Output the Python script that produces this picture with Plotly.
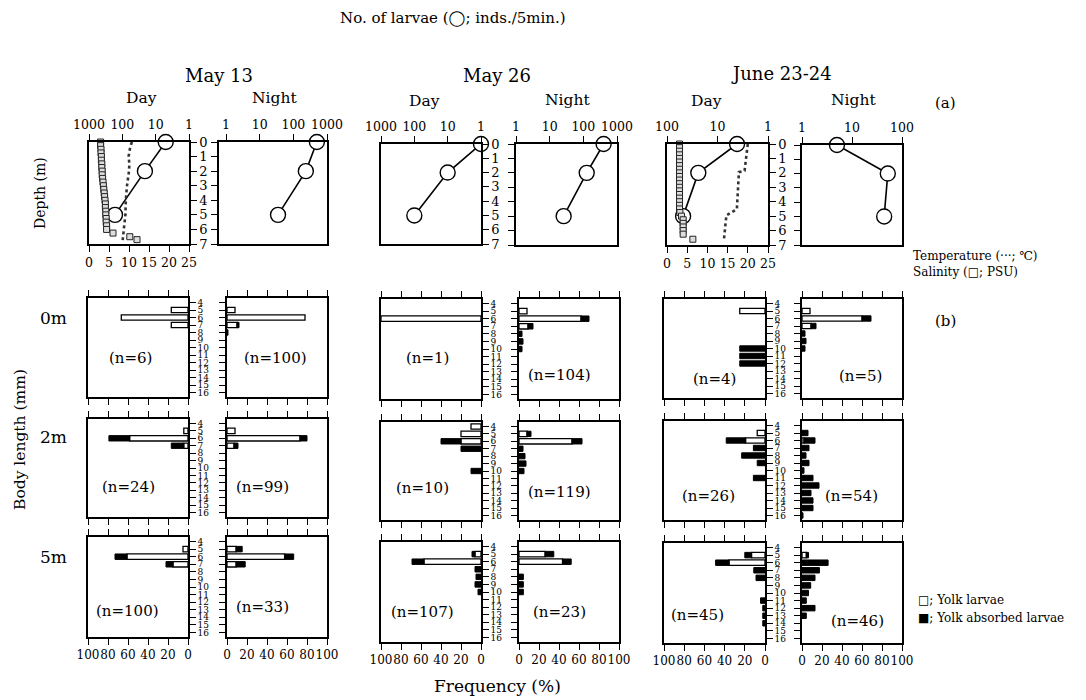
import plotly.graph_objects as go

W, H = 1086, 700
FONT = "DejaVu Serif"

# ---------------- data : (a) vertical distribution ----------------
depth_sampled = [0, 2, 5]
larvae_may13_day = [5, 21, 166]
larvae_may13_night = [500, 235, 35]
larvae_may26_day = [1, 10, 100]
larvae_may26_night = [400, 126, 26]
larvae_jun_day = [4.1, 24, 48]
larvae_jun_night = [5, 52, 44]

temp_depth_may13 = [0, 0.5, 1.0, 1.5, 2.0, 2.5, 3.0, 4.0, 5.0, 6.0, 6.8]
temp_may13 = [10.7, 10.2, 9.9, 10.1, 10.0, 9.7, 9.5, 9.2, 9.1, 8.7, 8.4]

sal_depth_may13 = [0, 0.25, 0.5, 0.75, 1.0, 1.25, 1.5, 1.75, 2.0, 2.25, 2.5, 2.75, 3.0,
                   3.25, 3.5, 3.75, 4.0, 4.25, 4.5, 4.75, 5.0, 5.25, 5.5, 5.75, 6.0,
                   6.25, 6.5, 6.7]
sal_may13 = [2.9, 2.9, 3.0, 3.0, 3.1, 3.1, 3.2, 3.2, 3.3, 3.3, 3.4, 3.5, 3.6,
             3.7, 3.8, 3.9, 4.0, 4.1, 4.1, 4.2, 4.2, 4.3, 4.3, 4.4, 4.4,
             6.0, 10.2, 12.0]

temp_depth_jun = [0, 0.5, 1.0, 1.5, 1.85, 1.95, 2.5, 3.0, 3.5, 4.0, 4.5, 4.6, 4.8, 4.95, 5.5, 6.0, 6.6]
temp_jun = [20.0, 19.8, 19.6, 19.4, 19.2, 17.8, 17.7, 17.6, 17.5, 17.4, 17.3, 16.8, 15.4, 14.7, 14.5, 14.3, 14.1]

sal_depth_jun = [0, 0.25, 0.5, 0.75, 1.0, 1.25, 1.5, 1.75, 2.0, 2.25, 2.5, 2.75, 3.0,
                 3.25, 3.5, 3.75, 4.0, 4.25, 4.5, 4.75, 5.0, 5.25, 5.5, 5.75, 6.0, 6.25, 6.6]
sal_jun = [3.1, 3.1, 3.1, 3.1, 3.1, 3.1, 3.1, 3.1, 3.1, 3.1, 3.1, 3.1, 3.1,
           3.1, 3.1, 3.1, 3.1, 3.1, 3.1, 3.2, 3.6, 4.0, 4.0, 4.0, 4.0, 4.0, 6.4]

# ---------------- data : (b) body length frequency (%) ----------------
body_length = [4, 5, 6, 7, 8, 9, 10, 11, 12, 13, 14, 15, 16]

#                          4    5     6     7    8    9   10   11   12   13   14   15   16
yolk_may13_day_0m      = [0, 16.7, 66.7, 16.7, 0, 0, 0, 0, 0, 0, 0, 0, 0]
absorbed_may13_day_0m  = [0, 0, 0, 0, 0, 0, 0, 0, 0, 0, 0, 0, 0]
yolk_may13_night_0m    = [0, 8, 78, 10, 0, 0, 0, 0, 0, 0, 0, 0, 0]
absorbed_may13_night_0m = [0, 0, 0, 2, 1, 0, 0, 0, 0, 0, 0, 0, 0]
yolk_may26_day_0m      = [0, 0, 100, 0, 0, 0, 0, 0, 0, 0, 0, 0, 0]
absorbed_may26_day_0m  = [0, 0, 0, 0, 0, 0, 0, 0, 0, 0, 0, 0, 0]
yolk_may26_night_0m    = [0, 8, 62, 9, 0, 0, 0, 0, 0, 0, 0, 0, 0]
absorbed_may26_night_0m = [0, 0, 8, 5, 3, 4, 3, 0, 0, 0, 0, 0, 0]
yolk_jun_day_0m        = [0, 25, 0, 0, 0, 0, 0, 0, 0, 0, 0, 0, 0]
absorbed_jun_day_0m    = [0, 0, 0, 0, 0, 0, 25, 25, 25, 0, 0, 0, 0]
yolk_jun_night_0m      = [0, 8, 60, 9, 0, 0, 0, 0, 0, 0, 0, 0, 0]
absorbed_jun_night_0m  = [0, 0, 9, 5, 3, 4, 3, 0, 0, 0, 0, 0, 0]

yolk_may13_day_2m      = [0, 4.2, 58.3, 4.2, 0, 0, 0, 0, 0, 0, 0, 0, 0]
absorbed_may13_day_2m  = [0, 0, 20.8, 12.5, 0, 0, 0, 0, 0, 0, 0, 0, 0]
yolk_may13_night_2m    = [0, 8, 73, 7, 0, 0, 0, 0, 0, 0, 0, 0, 0]
absorbed_may13_night_2m = [0, 0, 7, 4, 0, 0, 0, 0, 0, 0, 0, 0, 0]
yolk_may26_day_2m      = [10, 20, 20, 0, 0, 0, 0, 0, 0, 0, 0, 0, 0]
absorbed_may26_day_2m  = [0, 0, 20, 20, 0, 0, 10, 0, 0, 0, 0, 0, 0]
yolk_may26_night_2m    = [0, 8, 53, 0, 0, 0, 0, 0, 0, 0, 0, 0, 0]
absorbed_may26_night_2m = [0, 4, 10, 4, 6, 7, 5, 0, 0, 0, 0, 0, 0]
yolk_jun_day_2m        = [0, 7.7, 19.2, 0, 0, 0, 0, 0, 0, 0, 0, 0, 0]
absorbed_jun_day_2m    = [0, 0, 19.2, 11.5, 23.1, 7.7, 0, 11.5, 0, 0, 0, 0, 0]
yolk_jun_night_2m      = [0, 0, 2, 0, 0, 0, 0, 0, 0, 0, 0, 0, 0]
absorbed_jun_night_2m  = [0, 6, 11, 7, 4, 7, 2, 11, 17, 9, 11, 11, 1]

yolk_may13_day_5m      = [0, 5, 61, 15, 0, 0, 0, 0, 0, 0, 0, 0, 0]
absorbed_may13_day_5m  = [0, 0, 12, 7, 0, 0, 0, 0, 0, 0, 0, 0, 0]
yolk_may13_night_5m    = [0, 9.1, 57.6, 9.1, 0, 0, 0, 0, 0, 0, 0, 0, 0]
absorbed_may13_night_5m = [0, 6.1, 9.1, 9.1, 0, 0, 0, 0, 0, 0, 0, 0, 0]
yolk_may26_day_5m      = [0, 6, 57, 0, 0, 0, 0, 0, 0, 0, 0, 0, 0]
absorbed_may26_day_5m  = [0, 3, 12, 6, 5, 6, 3, 0, 0, 0, 0, 0, 0]
yolk_may26_night_5m    = [0, 26.1, 43.5, 0, 0, 0, 0, 0, 0, 0, 0, 0, 0]
absorbed_may26_night_5m = [0, 8.7, 8.7, 0, 4.35, 4.35, 4.35, 0, 0, 0, 0, 0, 0]
yolk_jun_day_5m        = [0, 13.3, 35.6, 0, 0, 0, 0, 0, 0, 0, 0, 0, 0]
absorbed_jun_day_5m    = [0, 6.7, 13.3, 11.1, 8.9, 0, 0, 4.4, 2.2, 2.2, 2.2, 0, 0]
yolk_jun_night_5m      = [0, 4.3, 0, 0, 0, 0, 0, 0, 0, 0, 0, 0, 0]
absorbed_jun_night_5m  = [0, 2.2, 26.1, 17.4, 13.0, 8.7, 6.5, 4.3, 13.0, 4.3, 0, 0, 0]

n_labels = ["(n=6)", "(n=100)", "(n=1)", "(n=104)", "(n=4)", "(n=5)",
            "(n=24)", "(n=99)", "(n=10)", "(n=119)", "(n=26)", "(n=54)",
            "(n=100)", "(n=33)", "(n=107)", "(n=23)", "(n=45)", "(n=46)"]

# ---------------- figure construction ----------------
fig = go.Figure()
axes = {}
cnt = [0]

base_x = dict(showline=True, linecolor="black", linewidth=1.5, mirror=True,
              showgrid=False, zeroline=False, ticks="outside", ticklen=6,
              tickwidth=1.3, tickcolor="black", automargin=False, tickangle=0,
              tickfont=dict(family=FONT, size=12, color="black"))
base_y = dict(base_x)


def new_axes(box, xprops, yprops):
    cnt[0] += 1
    i = cnt[0]
    x0, x1, y0, y1 = box
    xr, yr = f"x{i}", f"y{i}"
    axes[f"xaxis{i}"] = {**base_x, "domain": [x0 / W, x1 / W], "anchor": yr, **xprops}
    axes[f"yaxis{i}"] = {**base_y, "domain": [1 - y1 / H, 1 - y0 / H], "anchor": xr, **yprops}
    return xr, yr


def overlay_x(xr, yr, xprops):
    cnt[0] += 1
    i = cnt[0]
    dom = axes["xaxis" + xr[1:]]["domain"]
    axes[f"xaxis{i}"] = {**base_x, "domain": dom, "anchor": yr, "overlaying": xr,
                         "side": "bottom", "mirror": False, **xprops}
    return f"x{i}"


def larvae_trace(xr, yr, vals):
    fig.add_trace(go.Scatter(x=vals, y=depth_sampled, xaxis=xr, yaxis=yr, mode="lines+markers",
                             line=dict(color="black", width=1.6),
                             marker=dict(symbol="circle", size=15, color="white",
                                         line=dict(color="black", width=1.4)),
                             cliponaxis=False, showlegend=False))


depth_ticks = dict(range=[7, 0], tickvals=[0, 1, 2, 3, 4, 5, 6, 7],
                   tickfont=dict(family=FONT, size=13, color="black"))

top_panels = [
    ((89, 189, 142, 244), [3, 0], [1000, 100, 10, 1], True, larvae_may13_day, "may13"),
    ((219, 327, 142, 244), [-0.21, 3], [1, 10, 100, 1000], False, larvae_may13_night, None),
    ((381, 481, 144, 244), [3, 0], [1000, 100, 10, 1], True, larvae_may26_day, None),
    ((516, 617, 144, 245), [0, 3], [1, 10, 100, 1000], False, larvae_may26_night, None),
    ((667, 768, 144, 245), [2, 0], [100, 10, 1], True, larvae_jun_day, "jun"),
    ((802, 902, 145, 245), [0, 2], [1, 10, 100], False, larvae_jun_night, None),
]

for box, rng, tv, is_day, vals, env in top_panels:
    xprops = dict(type="log", range=rng, side="top", tickvals=tv, ticktext=[str(v) for v in tv],
                  tickfont=dict(family=FONT, size=12.5, color="black"))
    if is_day:
        yprops = dict(side="right", **depth_ticks)
    else:
        yprops = dict(side="left", showticklabels=False, **depth_ticks)
    xr, yr = new_axes(box, xprops, yprops)
    if env is not None:
        xo = overlay_x(xr, yr, dict(range=[0, 25], tickvals=[0, 5, 10, 15, 20, 25],
                                    tickfont=dict(family=FONT, size=12.5, color="black")))
        if env == "may13":
            sd, sv, td, tvv = sal_depth_may13, sal_may13, temp_depth_may13, temp_may13
        else:
            sd, sv, td, tvv = sal_depth_jun, sal_jun, temp_depth_jun, temp_jun
        fig.add_trace(go.Scatter(x=sv, y=sd, xaxis=xo, yaxis=yr, mode="markers",
                                 marker=dict(symbol="square", size=6, color="#ddd",
                                             line=dict(color="#222", width=1)),
                                 cliponaxis=False, showlegend=False))
        fig.add_trace(go.Scatter(x=tvv, y=td, xaxis=xo, yaxis=yr, mode="lines",
                                 line=dict(color="#333", width=2.6, dash="dot"),
                                 showlegend=False))
    larvae_trace(xr, yr, vals)

# bottom panels
col_x = [((88, 188), (227, 327)), ((381, 481), (519, 619)), ((664, 765), (802, 902))]
row_y = [
    [(298, 397), (419, 517), (537, 637)],
    [(299, 399), (422, 520), (542, 642)],
    [(299, 398), (421, 520), (543, 643)],
]
bar_sets = [
    [  # 0 m
        (yolk_may13_day_0m, absorbed_may13_day_0m), (yolk_may13_night_0m, absorbed_may13_night_0m),
        (yolk_may26_day_0m, absorbed_may26_day_0m), (yolk_may26_night_0m, absorbed_may26_night_0m),
        (yolk_jun_day_0m, absorbed_jun_day_0m), (yolk_jun_night_0m, absorbed_jun_night_0m),
    ],
    [  # 2 m
        (yolk_may13_day_2m, absorbed_may13_day_2m), (yolk_may13_night_2m, absorbed_may13_night_2m),
        (yolk_may26_day_2m, absorbed_may26_day_2m), (yolk_may26_night_2m, absorbed_may26_night_2m),
        (yolk_jun_day_2m, absorbed_jun_day_2m), (yolk_jun_night_2m, absorbed_jun_night_2m),
    ],
    [  # 5 m
        (yolk_may13_day_5m, absorbed_may13_day_5m), (yolk_may13_night_5m, absorbed_may13_night_5m),
        (yolk_may26_day_5m, absorbed_may26_day_5m), (yolk_may26_night_5m, absorbed_may26_night_5m),
        (yolk_jun_day_5m, absorbed_jun_day_5m), (yolk_jun_night_5m, absorbed_jun_night_5m),
    ],
]

n_pos = [
    [(130, 358), (275, 358), (427, 358), (559, 375), (714, 379), (860, 376)],
    [(128, 487), (262, 487), (422, 488), (559, 492), (708, 496), (851, 496)],
    [(127, 611), (262, 607), (422, 612), (559, 612), (697, 615), (857, 621)],
]

annotations = []
BW = 0.72
for r in range(3):
    for c in range(3):
        for k in range(2):
            is_day = (k == 0)
            x0, x1 = col_x[c][k]
            y0, y1 = row_y[c][r]
            if is_day:
                tv = [100, 80, 60, 40, 20, 0]
                xprops = dict(range=[100, 0], tickvals=tv, mirror="allticks", side="bottom",
                              showticklabels=(r == 2))
                yprops = dict(side="right", range=[16.6, 3.4], tickvals=body_length,
                              tickfont=dict(family=FONT, size=9, color="black"), ticklen=6)
            else:
                tv = [0, 20, 40, 60, 80, 100]
                xprops = dict(range=[0, 100], tickvals=tv, mirror="allticks", side="bottom",
                              showticklabels=(r == 2))
                yprops = dict(side="left", range=[16.6, 3.4], tickvals=body_length,
                              showticklabels=False, ticklen=6)
            xprops["tickfont"] = dict(family=FONT, size=12, color="black")
            xr, yr = new_axes((x0, x1, y0, y1), xprops, yprops)
            yolk, absorbed = bar_sets[r][2 * c + k]
            yl = [L for L, v in zip(body_length, yolk) if v > 0]
            yv = [v for v in yolk if v > 0]
            al = [L for L, v in zip(body_length, absorbed) if v > 0]
            av = [v for v in absorbed if v > 0]
            ab = [y for y, v in zip(yolk, absorbed) if v > 0]
            if yv:
                fig.add_trace(go.Bar(y=yl, x=yv, base=[0] * len(yv), orientation="h", width=BW,
                                     xaxis=xr, yaxis=yr,
                                     marker=dict(color="white", line=dict(color="black", width=1.3)),
                                     showlegend=False))
            if av:
                fig.add_trace(go.Bar(y=al, x=av, base=ab, orientation="h", width=BW,
                                     xaxis=xr, yaxis=yr,
                                     marker=dict(color="black", line=dict(color="black", width=1.0)),
                                     showlegend=False))
            nx, ny = n_pos[r][2 * c + k]
            annotations.append(dict(x=nx / W, y=1 - ny / H, xref="paper", yref="paper",
                                    text=n_labels[r * 6 + 2 * c + k], showarrow=False,
                                    font=dict(family=FONT, size=15, color="black"),
                                    xanchor="center", yanchor="middle"))


def txt(x, y, s, size, anchor="center", angle=0):
    annotations.append(dict(x=x / W, y=1 - y / H, xref="paper", yref="paper", text=s,
                            showarrow=False, textangle=angle,
                            font=dict(family=FONT, size=size, color="black"),
                            xanchor=anchor, yanchor="middle"))


txt(453, 18, "No. of larvae (◯; inds./5min.)", 15)
txt(219, 76, "May 13", 18)
txt(497, 76, "May 26", 18)
txt(781, 73, "June 23-24", 18)
txt(141, 98, "Day", 15.5)
txt(274, 98, "Night", 15.5)
txt(424, 101, "Day", 15.5)
txt(567, 100, "Night", 15.5)
txt(706, 101, "Day", 15.5)
txt(853, 100, "Night", 15.5)
txt(945, 103, "(a)", 15)
txt(945, 321, "(b)", 15)
txt(40, 193, "Depth (m)", 14, angle=-90)
txt(20, 440, "Body length (mm)", 15.5, angle=-90)
txt(53, 318, "0m", 17)
txt(53, 437, "2m", 17)
txt(53, 557, "5m", 17)
txt(911, 256, "Temperature (···; ℃)", 12, anchor="left")
txt(911, 272, "Salinity (□; PSU)", 12, anchor="left")
txt(916, 600, "□; Yolk larvae", 12, anchor="left")
txt(916, 618, "■; Yolk absorbed larvae", 12, anchor="left")
txt(497, 686, "Frequency (%)", 17)

fig.update_layout(width=W, height=H, margin=dict(l=0, r=0, t=0, b=0),
                  paper_bgcolor="white", plot_bgcolor="white",
                  barmode="overlay", showlegend=False,
                  font=dict(family=FONT, color="black"),
                  annotations=annotations, **axes)

fig.write_html("out.html")
